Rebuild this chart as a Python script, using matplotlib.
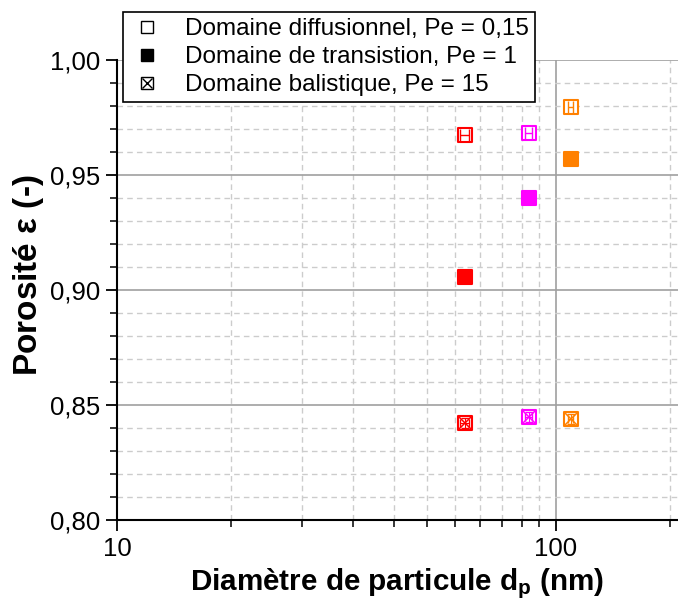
"""
Porosité en fonction du diamètre de particule pour trois régimes de Péclet.
"""
import matplotlib
matplotlib.use("Agg")
import matplotlib.pyplot as plt
import matplotlib.ticker as mticker
from matplotlib.lines import Line2D
from matplotlib.markers import MarkerStyle

# Données
dp = [62.0, 86.8, 108.2]                 # diamètre de particule (nm)
dp_err = [1.5, 1.5, 1.5]
colors = ["#FF0000", "#FF00FF", "#FF8000"]
eps_diff = [0.9674, 0.9683, 0.9796]      # Pe = 0,15
eps_trans = [0.9057, 0.9400, 0.9570]     # Pe = 1
eps_bal = [0.8422, 0.8448, 0.8439]       # Pe = 15
eps_err = [0.002, 0.002, 0.002]

labels = ["Domaine diffusionnel, Pe = 0,15",
          "Domaine de transistion, Pe = 1",
          "Domaine balistique, Pe = 15"]
y_ticks = [0.80, 0.85, 0.90, 0.95, 1.00]
x_ticks = [10, 100]

plt.rcParams['font.family'] = ['Liberation Sans', 'DejaVu Sans']
plt.rcParams['mathtext.fontset'] = 'custom'
plt.rcParams['mathtext.rm'] = 'Liberation Sans'
plt.rcParams['mathtext.bf'] = 'Liberation Sans:bold'

fig = plt.figure(figsize=(6.78, 6.05), dpi=100)
ax = fig.add_axes([0.1726, 0.1405, 0.8274, 0.7603])

sq = MarkerStyle('s', joinstyle='round')
ms = 10
for i in range(len(dp)):
    c = colors[i]
    # diffusionnel : carré vide
    ax.plot(dp[i], eps_diff[i], marker=sq, ms=ms, mfc='white', mec=c,
            mew=1.5, ls='none', zorder=3)
    ax.errorbar(dp[i], eps_diff[i], xerr=dp_err[i], fmt='none', ecolor=c,
                elinewidth=1, capsize=4, zorder=4)
    # transition : carré plein
    ax.plot(dp[i], eps_trans[i], marker=sq, ms=ms, mfc=c, mec=c,
            mew=1.5, ls='none', zorder=3)
    # balistique : carré barré
    ax.plot(dp[i], eps_bal[i], marker=sq, ms=ms, mfc='white', mec=c,
            mew=1.5, ls='none', zorder=3)
    ax.plot(dp[i], eps_bal[i], marker='x', ms=ms - 1, mec=c, mew=1.1,
            ls='none', zorder=4)
    ax.errorbar(dp[i], eps_bal[i], xerr=dp_err[i], yerr=eps_err[i],
                fmt='none', ecolor=c, elinewidth=0.8, capsize=3, zorder=4)

ax.set_xscale('log')
ax.set_xlim(10, 190)
ax.set_ylim(0.80, 1.00)

# graduations : Origin met 10 graduations mineures linéaires par décade
minor_x = [10 + k * 90 / 11 for k in range(1, 11)] + \
          [100 + k * 900 / 11 for k in range(1, 11)]
ax.xaxis.set_major_locator(mticker.FixedLocator(x_ticks))
ax.xaxis.set_minor_locator(mticker.FixedLocator(minor_x))
ax.xaxis.set_major_formatter(mticker.FixedFormatter([str(v) for v in x_ticks]))
ax.xaxis.set_minor_formatter(mticker.NullFormatter())

ax.yaxis.set_major_locator(mticker.FixedLocator(y_ticks))
ax.yaxis.set_minor_locator(mticker.MultipleLocator(0.01))
ax.yaxis.set_major_formatter(mticker.FuncFormatter(
    lambda v, p: f"{v:.2f}".replace('.', ',')))

ax.grid(which='major', color='#a0a0a0', lw=1.2, ls='-')
ax.grid(which='minor', color='#cccccc', lw=1, ls=(0, (4, 3)))
ax.set_axisbelow(True)

ax.tick_params(which='major', direction='out', length=8, width=1.3,
               labelsize=18.5, pad=4)
ax.tick_params(which='minor', direction='out', length=5, width=1.1)
for s in ['top', 'right']:
    ax.spines[s].set_visible(False)
for s in ['left', 'bottom']:
    ax.spines[s].set_linewidth(1.5)

ax.set_xlabel(r"Diamètre de particule $\mathbf{d_p}$ (nm)",
              fontsize=21.3, fontweight='bold', labelpad=4)
ax.set_ylabel(r"Porosité $\mathregular{ε}$ (-)", fontsize=24,
              fontweight='bold')
ax.yaxis.set_label_coords(-0.127, 0.533)

# légende en noir
h_open = Line2D([], [], marker='s', ls='none', ms=8, mfc='white', mec='black', mew=1)
h_fill = Line2D([], [], marker='s', ls='none', ms=8, mfc='black', mec='black', mew=1)
h_sq = Line2D([], [], marker='s', ls='none', ms=8, mfc='white', mec='black', mew=1)
h_x = Line2D([], [], marker='x', ls='none', ms=7, mec='black', mew=1)
leg = fig.legend([h_open, h_fill, (h_sq, h_x)], labels, loc='upper left',
                 bbox_to_anchor=(0.181, 0.980), fontsize=17.5, frameon=True,
                 fancybox=False, edgecolor='black', framealpha=1,
                 borderaxespad=0, borderpad=0.25, labelspacing=0.25,
                 handlelength=1.5, handletextpad=0.8)
leg.get_frame().set_linewidth(1.2)

fig.savefig("out.png", dpi=100)
